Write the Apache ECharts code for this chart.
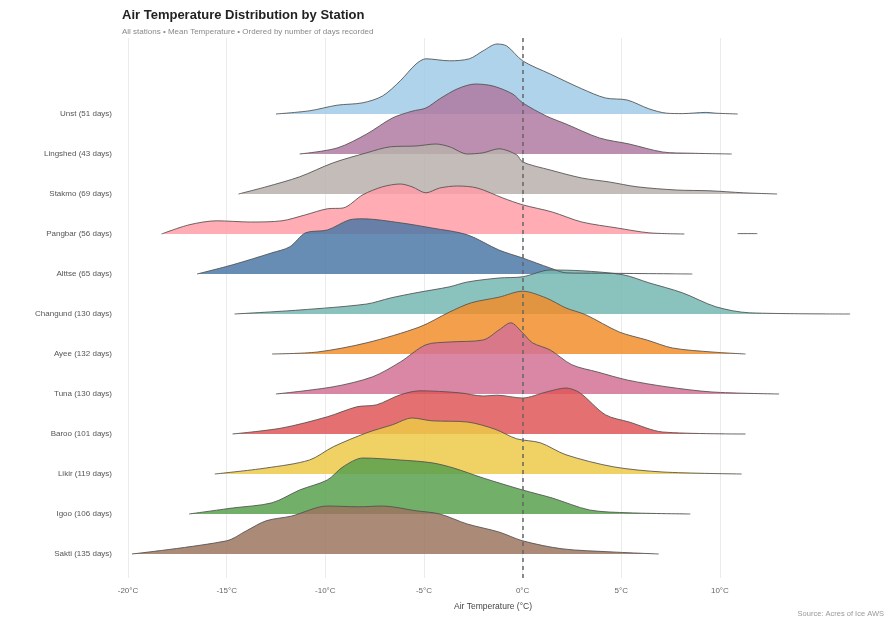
<!DOCTYPE html>
<html>
<head>
<meta charset="utf-8">
<script src="https://cdn.jsdelivr.net/npm/echarts@6/dist/echarts.min.js"></script>
<style>
html, body { margin: 0; padding: 0; background: #fff; }
#chart { width: 895px; height: 625px; }
</style>
</head>
<body>
<div id="chart"></div>
<script>
// stations from bottom (row 0) to top (row 11)
var stations = ['Sakti', 'Igoo', 'Likir', 'Baroo', 'Tuna', 'Ayee', 'Changund', 'Alttse', 'Pangbar', 'Stakmo', 'Lingshed', 'Unst'];
var days = [135, 106, 119, 101, 130, 132, 130, 65, 56, 69, 43, 51];
var colors = ['#9c755f', '#59a14f', '#edc948', '#e15759', '#d37295', '#f28e2b', '#76b7b2', '#4e79a7', '#ff9da7', '#bab0ac', '#b07aa1', '#a0cbe8'];
var xTicks = [-20, -15, -10, -5, 0, 5, 10];

// density profiles: [temperature, relative density]
var sakti = [[-19.8,0],[-15,0.33],[-14,0.58],[-13,0.83],[-11.7,0.95],[-9.9,1.2],[-8.3,1.18],[-7.1,1.2],[-5.4,1.08],[-4.2,1.0],[-2.8,0.75],[-1.2,0.55],[0,0.33],[2,0.13],[4.6,0.05],[6.9,0]];
var igoo = [[-16.9,0],[-14.7,0.15],[-12.7,0.28],[-11.3,0.6],[-9.9,0.85],[-9.1,1.18],[-8.1,1.4],[-6.2,1.35],[-4.6,1.28],[-3.5,1.15],[-2,0.9],[0,0.6],[1.5,0.4],[3.4,0.1],[5.4,0.03],[8.5,0]];
var likir = [[-15.6,0],[-13,0.15],[-10.8,0.35],[-9.6,0.68],[-7.9,1.03],[-6.6,1.23],[-5.6,1.4],[-4.6,1.33],[-2.8,1.3],[-1.4,1.12],[-0.3,0.88],[0.9,0.78],[2.2,0.48],[4.6,0.18],[7.1,0.05],[11.1,0]];
var baroo = [[-14.7,0],[-12.2,0.15],[-9.9,0.43],[-8.4,0.68],[-7.4,0.73],[-6.2,0.98],[-5.2,1.08],[-3.2,1.03],[-2,0.95],[-1.3,0.97],[0,0.9],[1.2,1.05],[2.2,1.15],[2.9,1.03],[4.2,0.48],[5.4,0.3],[7.1,0.05],[11.3,0]];
var tuna = [[-12.5,0],[-9.6,0.18],[-7.6,0.43],[-6.2,0.8],[-4.9,1.23],[-3.7,1.3],[-2,1.35],[-1.2,1.6],[-0.6,1.78],[0,1.53],[0.5,1.28],[1.4,1.1],[2.5,0.73],[3.8,0.55],[5.3,0.35],[7.3,0.18],[9.6,0.05],[13,0]];
var ayee = [[-12.7,0],[-10.4,0.05],[-7.9,0.28],[-5.2,0.68],[-3.7,1.05],[-2.6,1.28],[-1.2,1.42],[0,1.57],[1.2,1.4],[2.2,1.15],[3.2,0.98],[4.9,0.55],[6.3,0.35],[7.6,0.15],[9.6,0.05],[11.3,0]];
var changund = [[-14.6,0],[-11.3,0.1],[-7.9,0.25],[-6.7,0.4],[-5.4,0.53],[-3.7,0.68],[-2.8,0.8],[-1.2,0.9],[0,0.93],[1.4,1.1],[3,1.08],[5.1,0.98],[6.4,0.78],[8.1,0.53],[9.8,0.18],[11.5,0.03],[16.6,0]];
var alttse = [[-16.5,0],[-14.7,0.23],[-12.7,0.53],[-11.8,0.68],[-11,1.03],[-9.9,1.1],[-8.8,1.35],[-8.1,1.38],[-6.2,1.28],[-4.6,1.15],[-2.8,0.98],[-1.2,0.6],[0,0.4],[1.4,0.15],[2.2,0.03],[3.9,0.02],[8.6,0]];
var pangbar = [[-18.3,0],[-16.9,0.23],[-15.5,0.33],[-13.8,0.3],[-12.2,0.33],[-11,0.48],[-9.9,0.63],[-9.1,0.65],[-8.1,0.98],[-7.1,1.18],[-6.2,1.25],[-5.6,1.18],[-4.9,1.03],[-4.2,1.15],[-3.3,1.2],[-2.3,1.15],[-1,0.9],[0,0.73],[1.5,0.55],[3,0.3],[4.8,0.15],[6.4,0.03],[8.2,0],[9.5,'-'],[10.9,0.01],[11.9,0.01]];
var stakmo = [[-14.4,0],[-13,0.18],[-11.3,0.43],[-9.6,0.78],[-7.9,1.03],[-6.7,1.18],[-5.4,1.2],[-4.4,1.25],[-3.7,1.18],[-2.8,1.0],[-2,1.03],[-1.2,1.13],[-0.3,0.98],[0,0.8],[1.4,0.6],[3,0.4],[4.4,0.3],[5.8,0.18],[7.8,0.1],[9.5,0.08],[11.2,0.03],[12.9,0]];
var lingshed = [[-11.3,0],[-9.4,0.15],[-7.9,0.5],[-6.6,0.9],[-5.6,1.07],[-4.9,1.15],[-4.2,1.38],[-3.3,1.63],[-2.4,1.75],[-1.5,1.7],[-0.5,1.5],[0,1.28],[1.2,0.95],[2.2,0.75],[3.9,0.4],[5.4,0.25],[7.1,0.05],[8.5,0.02],[10.6,0]];
var unst = [[-12.5,0],[-10.8,0.08],[-9.4,0.22],[-8.1,0.28],[-7.1,0.45],[-6.2,0.83],[-5.4,1.25],[-4.9,1.38],[-3.7,1.33],[-2.7,1.38],[-2,1.58],[-1.3,1.75],[-0.8,1.7],[0,1.33],[1.4,1.0],[3,0.63],[4.2,0.4],[5.3,0.35],[6.4,0.13],[7.3,0.02],[8.1,0.01],[9.3,0.04],[9.8,0.02],[10.9,0]];

var profiles = [sakti, igoo, likir, baroo, tuna, ayee, changund, alttse, pangbar, stakmo, lingshed, unst];

var series = [];
// draw top rows first so lower ridges overlap them
for (var i = stations.length - 1; i >= 0; i--) {
    var row = i;
    series.push({
        name: stations[i],
        type: 'line',
        smooth: 0.3,
        symbol: 'none',
        data: profiles[i].map(function (p) {
            return [p[0], p[1] === '-' ? '-' : row + p[1]];
        }),
        lineStyle: { color: '#505050', width: 1, opacity: 0.85 },
        areaStyle: { color: colors[i], opacity: 0.85, origin: row },
        z: 2
    });
}
series[series.length - 1].markLine = {
    silent: true,
    symbol: 'none',
    label: { show: false },
    lineStyle: { color: '#666', type: [4, 4], width: 1.5 },
    data: [{ xAxis: 0 }]
};

var chart = echarts.init(document.getElementById('chart'));
chart.setOption({
    animation: false,
    title: [{
        text: 'Air Temperature Distribution by Station',
        subtext: 'All stations • Mean Temperature • Ordered by number of days recorded',
        left: 117,
        top: 4,
        itemGap: 6,
        textStyle: { fontFamily: 'Liberation Sans', fontSize: 13, fontWeight: 'bold', color: '#222' },
        subtextStyle: { fontFamily: 'Liberation Sans', fontSize: 8, color: '#888' }
    }, {
        text: 'Source: Acres of Ice AWS',
        right: 6,
        bottom: 2,
        textStyle: { fontFamily: 'Liberation Sans', fontSize: 7.5, fontWeight: 'normal', color: '#999' }
    }],
    grid: { left: 128, right: 37, top: 38, bottom: 47 },
    xAxis: {
        type: 'value',
        min: -20,
        max: 17,
        name: 'Air Temperature (°C)',
        nameLocation: 'middle',
        nameGap: 24,
        nameTextStyle: { fontFamily: 'Liberation Sans', fontSize: 8.5, color: '#444' },
        axisLine: { show: false },
        axisTick: { show: false, customValues: xTicks },
        axisLabel: {
            customValues: xTicks,
            margin: 9,
            fontFamily: 'Liberation Sans',
            fontSize: 8,
            color: '#666',
            formatter: function (v) { return v + '°C'; }
        },
        splitLine: { show: true, lineStyle: { color: '#ebebeb', width: 1 } }
    },
    yAxis: {
        type: 'value',
        min: -0.6,
        max: 12.9,
        axisLine: { show: false },
        axisTick: { show: false, customValues: [0, 1, 2, 3, 4, 5, 6, 7, 8, 9, 10, 11] },
        splitLine: { show: false },
        axisLabel: {
            customValues: [0, 1, 2, 3, 4, 5, 6, 7, 8, 9, 10, 11],
            margin: 16,
            fontFamily: 'Liberation Sans',
            fontSize: 8,
            color: '#555',
            formatter: function (v) {
                var k = Math.round(v);
                return stations[k] + ' (' + days[k] + ' days)';
            }
        }
    },
    series: series
});
</script>
</body>
</html>
